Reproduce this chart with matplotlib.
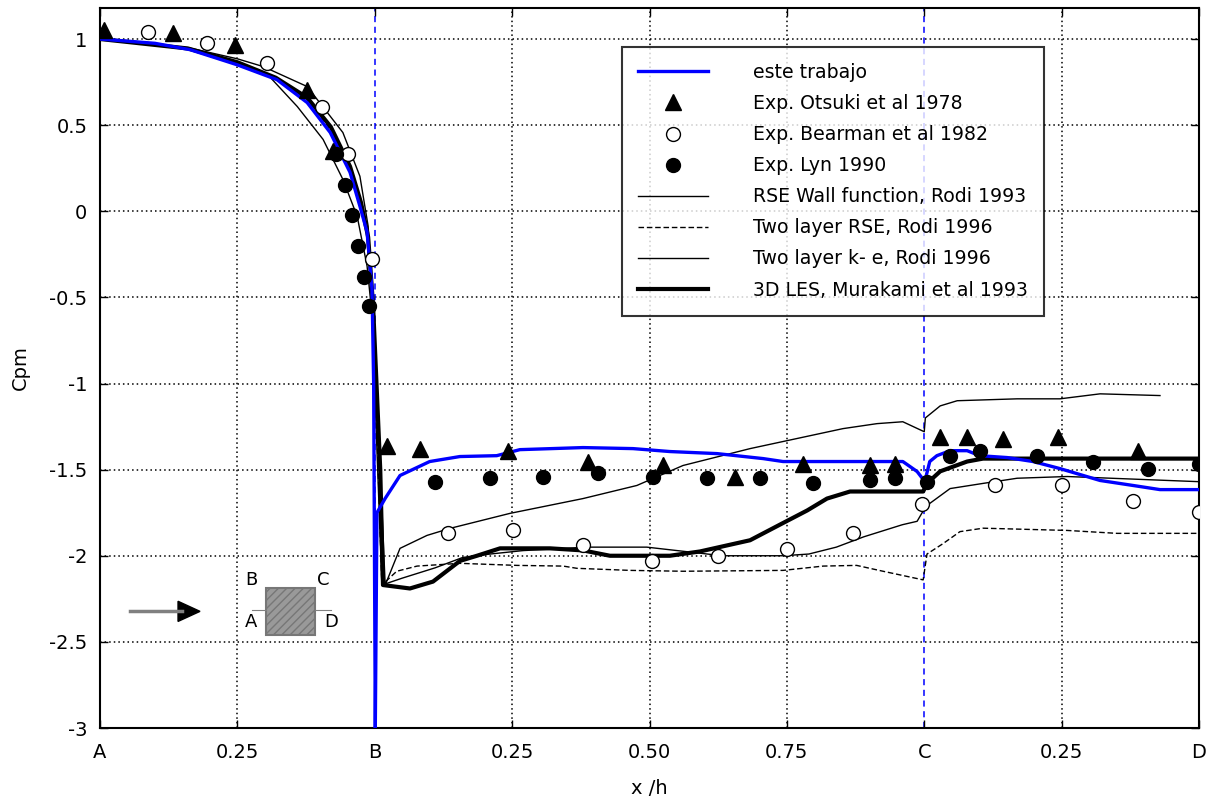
import matplotlib
matplotlib.use('Agg')
import matplotlib.pyplot as plt
from matplotlib.patches import Rectangle, Polygon

plt.rcParams['font.family'] = 'DejaVu Sans'
plt.rcParams['axes.unicode_minus'] = False

# position along the square surface A-B-C-D (x/h)
tick_pos = [0, 0.25, 0.5, 0.75, 1.0, 1.25, 1.5, 1.75, 2.0]
tick_lab = ['A', '0.25', 'B', '0.25', '0.50', '0.75', 'C', '0.25', 'D']
face_pos = [0.5, 1.5, 2.0]

# este trabajo
est_x = [0, 0.10, 0.164, 0.249, 0.322, 0.377, 0.419, 0.455, 0.473, 0.486, 0.495, 0.498, 0.501,
         0.504, 0.519, 0.546, 0.600, 0.655, 0.722, 0.764, 0.879, 0.970, 1.037, 1.123, 1.207,
         1.243, 1.461, 1.487, 1.501, 1.510, 1.523, 1.547, 1.578, 1.601, 1.651, 1.698, 1.747,
         1.820, 1.880, 1.929, 2.0]
est_y = [1.0, 0.975, 0.938, 0.851, 0.764, 0.631, 0.457, 0.226, 0.029, -0.12, -0.45, -1.0, -3.0,
         -1.75, -1.667, -1.534, -1.453, -1.424, -1.419, -1.384, -1.372, -1.378, -1.395, -1.407,
         -1.436, -1.453, -1.453, -1.511, -1.569, -1.453, -1.419, -1.39, -1.39, -1.419, -1.43,
         -1.453, -1.494, -1.563, -1.592, -1.616, -1.616]

# Exp. Otsuki et al 1978
ots_x = [0.007, 0.133, 0.246, 0.377, 0.424, 0.522, 0.582, 0.743, 0.888, 1.024, 1.156, 1.279,
         1.401, 1.447, 1.529, 1.578, 1.643, 1.743, 1.889]
ots_y = [1.05, 1.036, 0.967, 0.706, 0.347, -1.36, -1.378, -1.39, -1.453, -1.476, -1.54, -1.465,
         -1.476, -1.465, -1.31, -1.31, -1.32, -1.31, -1.39]

# Exp. Bearman et al 1982
bea_x = [0.087, 0.195, 0.304, 0.404, 0.451, 0.495, 0.633, 0.752, 0.879, 1.005, 1.125, 1.250,
         1.370, 1.496, 1.629, 1.751, 1.880, 2.0]
bea_y = [1.04, 0.978, 0.863, 0.608, 0.33, -0.278, -1.87, -1.853, -1.94, -2.03, -2.0, -1.96,
         -1.87, -1.70, -1.59, -1.59, -1.685, -1.745]

# Exp. Lyn 1990
lyn_x = [0.43, 0.445, 0.458, 0.47, 0.481, 0.49, 0.610, 0.710, 0.806, 0.906, 1.006, 1.105, 1.201,
         1.298, 1.401, 1.447, 1.505, 1.547, 1.601, 1.705, 1.807, 1.907, 2.0]
lyn_y = [0.33, 0.15, -0.02, -0.2, -0.38, -0.55, -1.57, -1.55, -1.54, -1.52, -1.54, -1.55, -1.55,
         -1.58, -1.563, -1.55, -1.57, -1.42, -1.39, -1.42, -1.453, -1.494, -1.465]

# RSE Wall function, Rodi 1993
rse_x = [0, 0.16, 0.25, 0.297, 0.377, 0.442, 0.473, 0.488, 0.495, 0.51, 0.519, 0.546, 0.595,
         0.637, 0.746, 0.879, 0.977, 1.061, 1.183, 1.25, 1.352, 1.414, 1.461, 1.5, 1.502, 1.529,
         1.56, 1.669, 1.747, 1.82, 1.929]
rse_y = [1.0, 0.95, 0.885, 0.84, 0.724, 0.457, 0.203, -0.087, -0.434, -1.5, -2.17, -1.957,
         -1.882, -1.841, -1.754, -1.668, -1.592, -1.476, -1.378, -1.332, -1.262, -1.233, -1.222,
         -1.28, -1.20, -1.13, -1.10, -1.089, -1.089, -1.06, -1.07]

# Two layer RSE, Rodi 1996
tlr_x = [0, 0.16, 0.25, 0.32, 0.377, 0.42, 0.455, 0.475, 0.488, 0.496, 0.513, 0.54, 0.577, 0.655,
         0.759, 0.843, 0.868, 0.965, 1.061, 1.243, 1.316, 1.377, 1.425, 1.498, 1.505, 1.534,
         1.565, 1.607, 1.76, 1.851, 2.0]
tlr_y = [1.0, 0.945, 0.86, 0.77, 0.65, 0.47, 0.24, 0.04, -0.14, -0.5, -2.17, -2.09, -2.06,
         -2.044, -2.056, -2.06, -2.073, -2.085, -2.09, -2.085, -2.06, -2.056, -2.09, -2.14, -1.99,
         -1.93, -1.86, -1.84, -1.853, -1.87, -1.87]

# Two layer k-e, Rodi 1996
tlk_x = [0, 0.16, 0.25, 0.309, 0.359, 0.406, 0.442, 0.468, 0.486, 0.495, 0.513, 0.55, 0.61,
         0.66, 0.71, 0.77, 0.886, 0.995, 1.133, 1.243, 1.29, 1.34, 1.39, 1.46, 1.487, 1.498,
         1.505, 1.547, 1.607, 1.669, 1.76, 2.0]
tlk_y = [1.0, 0.94, 0.85, 0.78, 0.608, 0.417, 0.185, -0.029, -0.318, -0.6, -2.17, -2.13, -2.07,
         -2.01, -1.99, -1.97, -1.95, -1.95, -2.0, -2.0, -1.99, -1.95, -1.89, -1.82, -1.80, -1.74,
         -1.708, -1.61, -1.58, -1.55, -1.54, -1.57]

# 3D LES, Murakami et al 1993
les_x = [0, 0.16, 0.25, 0.32, 0.377, 0.42, 0.455, 0.475, 0.488, 0.497, 0.51, 0.515, 0.564,
         0.606, 0.655, 0.686, 0.728, 0.819, 0.879, 0.928, 1.037, 1.092, 1.183, 1.243, 1.287,
         1.323, 1.365, 1.498, 1.505, 1.529, 1.578, 1.607, 2.0]
les_y = [1.0, 0.945, 0.865, 0.775, 0.66, 0.49, 0.26, 0.05, -0.15, -0.55, -1.5, -2.17, -2.19,
         -2.15, -2.03, -2.0, -1.957, -1.957, -1.969, -2.0, -2.0, -1.975, -1.91, -1.81, -1.737,
         -1.668, -1.627, -1.627, -1.58, -1.51, -1.453, -1.436, -1.436]

fig = plt.figure(figsize=(12.07, 8.02), dpi=100)
ax = fig.add_axes([100 / 1207, 74 / 802, 1099 / 1207, 720 / 802])

# grid: black dotted, blue dashed on the corners B, C, D
for yv in [-2.5, -2, -1.5, -1, -0.5, 0, 0.5, 1]:
    ax.axhline(yv, color='k', ls=(0, (1, 2)), lw=1.1, zorder=0)
for xv in tick_pos[1:]:
    if xv in face_pos:
        ax.axvline(xv, color='b', ls=(0, (4, 3)), lw=1.1, zorder=0)
    else:
        ax.axvline(xv, color='k', ls=(0, (1, 2)), lw=1.1, zorder=0)

ax.plot(est_x, est_y, color='b', lw=2.4, label='este trabajo', zorder=3)
ax.plot(ots_x, ots_y, '^', color='k', ms=12, label='Exp. Otsuki et al 1978', zorder=4)
ax.plot(bea_x, bea_y, 'o', mfc='w', mec='k', ms=10, mew=1, label='Exp. Bearman et al 1982', zorder=4)
ax.plot(lyn_x, lyn_y, 'o', color='k', ms=10, label='Exp. Lyn 1990', zorder=4)
ax.plot(rse_x, rse_y, color='k', lw=1, label='RSE Wall function, Rodi 1993', zorder=2)
ax.plot(tlr_x, tlr_y, color='k', lw=1, ls=(0, (4, 2)), label='Two layer RSE, Rodi 1996', zorder=2)
ax.plot(tlk_x, tlk_y, color='k', lw=1, label='Two layer k- e, Rodi 1996', zorder=2)
ax.plot(les_x, les_y, color='k', lw=3, label='3D LES, Murakami et al 1993', zorder=2)

ax.set_xlim(0, 2)
ax.set_ylim(-3, 1.18)
ax.set_xticks(tick_pos)
ax.set_xticklabels(tick_lab)
ax.set_yticks([-3, -2.5, -2, -1.5, -1, -0.5, 0, 0.5, 1])
ax.set_yticklabels(['-3', '-2.5', '-2', '-1.5', '-1', '-0.5', '0', '0.5', '1'])
ax.tick_params(direction='in', length=6, width=1, labelsize=14, top=True, right=True)
ax.tick_params(axis='x', pad=11)
ax.tick_params(axis='y', pad=9)
for s in ax.spines.values():
    s.set_linewidth(1.5)
ax.set_xlabel('x /h', fontsize=14, labelpad=12)
ax.set_ylabel('Cpm', fontsize=14, labelpad=14)

leg = ax.legend(loc='upper left', bbox_to_anchor=(0.475, 0.946), borderaxespad=0,
                fontsize=13.6, frameon=True, fancybox=False, edgecolor='k',
                handlelength=3.7, handletextpad=2.4, labelspacing=0.64, borderpad=0.85)
leg.get_frame().set_linewidth(1.5)

# sketch of the square cylinder and the flow direction
ax.plot([0.027, 0.075], [0.162, 0.162], color='grey', lw=2.5, transform=ax.transAxes)
ax.add_patch(Polygon([[0.071, 0.176], [0.071, 0.148], [0.091, 0.162]], closed=True,
                     color='k', transform=ax.transAxes))
ax.add_patch(Rectangle((0.151, 0.129), 0.045, 0.065, facecolor='#999999', edgecolor='#777777',
                       lw=1.5, hatch='////', transform=ax.transAxes))
ax.plot([0.138, 0.151], [0.164, 0.164], color='grey', lw=0.8, transform=ax.transAxes)
ax.plot([0.196, 0.21], [0.164, 0.164], color='grey', lw=0.8, transform=ax.transAxes)
ax.text(0.138, 0.205, 'B', fontsize=13, ha='center', va='center', transform=ax.transAxes)
ax.text(0.203, 0.205, 'C', fontsize=13, ha='center', va='center', transform=ax.transAxes)
ax.text(0.137, 0.147, 'A', fontsize=13, ha='center', va='center', transform=ax.transAxes)
ax.text(0.210, 0.147, 'D', fontsize=13, ha='center', va='center', transform=ax.transAxes)

fig.savefig('out.png', dpi=100)
